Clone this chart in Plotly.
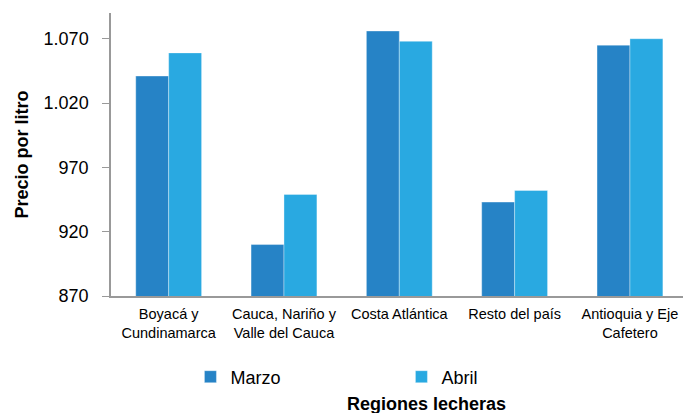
import plotly.graph_objects as go

categorias = ["Boyacá y<br>Cundinamarca", "Cauca, Nariño y<br>Valle del Cauca",
              "Costa Atlántica", "Resto del país", "Antioquia y Eje<br>Cafetero"]
marzo = [1041, 910, 1076, 943, 1065]
abril = [1059, 949, 1068, 952, 1070]
y_ticks = [870, 920, 970, 1020, 1070]
y_ticktext = ["870", "920", "970", "1.020", "1.070"]

W, H = 683, 413
PL, PR, PT, PB = 110.5, 683, 13, 296          # plot area in page pixels
L, R, T, B = PL, W - PR, PT, H - PB


def px(xp):
    return (xp - PL) / (PR - PL)


def py(yp):
    return (PB - yp) / (PB - PT)


fig = go.Figure()
fig.add_trace(go.Bar(name="Marzo", x=categorias, y=marzo,
                     marker=dict(color="#2683C6", line=dict(color="rgba(255,255,255,0.35)", width=1))))
fig.add_trace(go.Bar(name="Abril", x=categorias, y=abril,
                     marker=dict(color="#29A9E1", line=dict(color="rgba(255,255,255,0.35)", width=1))))

fig.update_layout(
    width=W, height=H,
    margin=dict(l=L, r=R, t=T, b=B, autoexpand=False),
    paper_bgcolor="white", plot_bgcolor="white",
    font=dict(family="Liberation Sans, Arial, sans-serif", color="#000000"),
    barmode="group", bargap=0.429, bargroupgap=0,
    showlegend=True,
    legend=dict(orientation="h", x=px(190), y=py(377),
                xanchor="left", yanchor="middle",
                font=dict(size=18), entrywidth=166, entrywidthmode="pixels",
                bgcolor="rgba(0,0,0,0)"),
    xaxis=dict(range=[-0.5, 4.46], showline=True, linecolor="#999999", linewidth=1.5,
               ticks="", tickfont=dict(size=14.5), ticklabelstandoff=4,
               showgrid=False, fixedrange=True),
    yaxis=dict(range=[870, 1090], tickvals=y_ticks, ticktext=y_ticktext,
               showline=True, linecolor="#999999", linewidth=1.5,
               ticks="outside", ticklen=7, tickcolor="#999999", tickwidth=1,
               tickfont=dict(size=18), ticklabelstandoff=10,
               showgrid=False, zeroline=False, fixedrange=True),
    annotations=[
        dict(text="<b>Regiones lecheras</b>", xref="paper", yref="paper",
             x=px(426.7), y=py(404), xanchor="center", yanchor="middle",
             showarrow=False, font=dict(size=18)),
        dict(text="<b>Precio por litro</b>", xref="paper", yref="paper",
             x=px(21), y=py(155), xanchor="center", yanchor="middle",
             textangle=-90, showarrow=False, font=dict(size=18)),
    ],
)

fig.write_html("out.html", config={"displayModeBar": False},
               post_script="document.body.style.margin='0';document.body.style.overflow='hidden';")
